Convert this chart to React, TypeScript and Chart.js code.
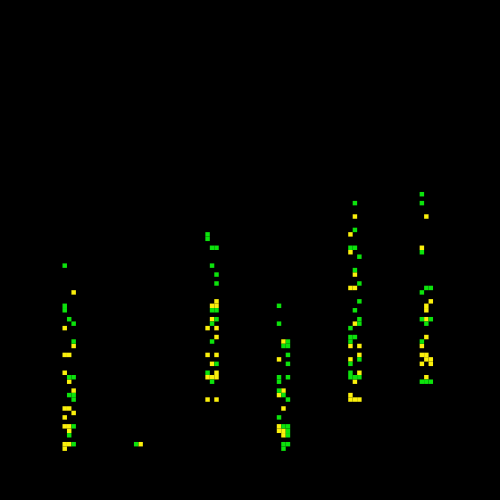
import React, { useEffect, useRef } from "react";
import { Chart, registerables } from "chart.js";

Chart.register(...registerables);

// [column, row] cells of the 112 x 112 grid
const greenCells: number[][] = [
  [14,59],[14,68],[14,69],[15,71],[16,72],[16,76],[15,84],[16,84],[15,88],[16,88],[16,89],[16,95],[15,97],[16,99],[30,99],
  [46,52],[46,53],[47,55],[48,55],[47,59],[48,61],[48,63],[47,69],[48,69],[48,71],[47,72],[47,76],[48,81],[46,83],[47,85],
  [62,68],[62,72],[64,76],[63,77],[64,77],[64,79],[64,81],[62,84],[64,84],[62,85],[62,87],[63,88],[64,89],[62,93],[63,95],[64,95],[64,96],[64,97],[63,99],[64,99],[63,100],
  [79,45],[79,51],[78,55],[79,55],[80,57],[79,60],[80,63],[80,67],[79,69],[80,71],[80,72],[78,73],[78,75],[79,75],[78,76],[80,80],[78,81],[78,83],[78,84],[79,84],[80,84],
  [94,43],[94,45],[94,56],[95,64],[96,64],[94,65],[94,71],[96,71],[95,72],[94,76],[94,85],[95,85],[96,85],
];
const yellowCells: number[][] = [
  [16,65],[14,73],[16,77],[14,79],[15,79],[14,83],[15,85],[16,87],[14,91],[15,91],[16,92],[14,93],[14,95],[15,95],[15,96],[14,99],[15,99],[14,100],[31,99],
  [48,67],[47,68],[48,68],[47,71],[46,73],[48,73],[48,75],[46,79],[48,79],[47,81],[48,83],[46,84],[47,84],[48,84],[46,89],[48,89],
  [63,76],[62,80],[63,87],[62,88],[63,91],[62,95],[62,96],[63,96],[63,97],
  [79,48],[78,52],[78,56],[79,61],[78,64],[79,64],[79,72],[78,77],[80,77],[80,79],[78,80],[80,83],[79,85],[78,88],[78,89],[79,89],[80,89],
  [95,48],[94,55],[96,67],[95,68],[95,69],[95,71],[95,75],[94,77],[94,79],[95,79],[95,80],[96,80],[94,81],[96,81],[95,84],
];
const gridSize = 112;

const toPoints = (cells: number[][]) => cells.map(([x, y]) => ({ x, y }));

export default function App() {
  const ref = useRef<HTMLCanvasElement>(null);
  useEffect(() => {
    if (!ref.current) return;
    const side = 500 / gridSize;
    const radius = side / Math.SQRT2;
    const base = { pointStyle: "rect" as const, pointRadius: radius, pointHoverRadius: radius, pointBorderWidth: 0 };
    const chart = new Chart(ref.current, {
      type: "scatter",
      data: {
        datasets: [
          { label: "green", data: toPoints(greenCells), pointBackgroundColor: "#0ce30c", ...base },
          { label: "yellow", data: toPoints(yellowCells), pointBackgroundColor: "#fbf00c", ...base },
        ],
      },
      options: {
        animation: false,
        responsive: false,
        layout: { padding: 0, autoPadding: false },
        plugins: { legend: { display: false }, tooltip: { enabled: false } },
        scales: {
          x: { type: "linear", display: false, min: -0.5, max: gridSize - 0.5 },
          y: { type: "linear", display: false, reverse: true, min: -0.5, max: gridSize - 0.5 },
        },
      },
    });
    return () => chart.destroy();
  }, []);
  return (
    <div style={{ position: "fixed", left: 0, top: 0, width: 500, height: 500, background: "#000" }}>
      <canvas ref={ref} width={500} height={500} style={{ display: "block" }} />
    </div>
  );
}
